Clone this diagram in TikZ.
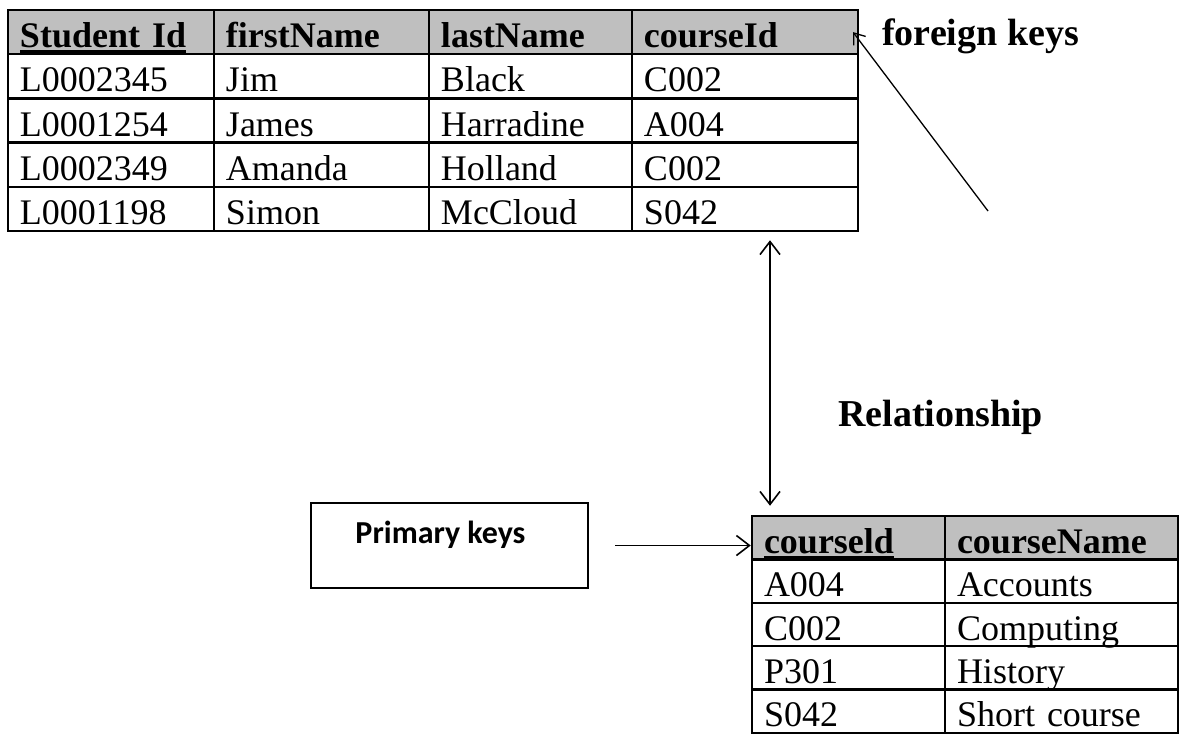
\documentclass[tikz,border=0pt]{standalone}
\usepackage{fontspec}
\setmainfont{Liberation Serif}
\newfontfamily\notefont{Carlito}
\usetikzlibrary{matrix,arrows.meta,positioning}
\newcommand\tablefont{\fontsize{36}{40}\selectfont}
% thick underline for the key column
\newcommand\keyname[1]{\setbox0=\hbox{#1}\rlap{\rule[-6pt]{\wd0}{3.5pt}}\box0}
\tikzset{
  cell/.style={draw, line width=2.5pt, outer sep=0pt, inner xsep=12pt, inner ysep=0.2pt,
    text height=37pt, text depth=6pt, align=left, font=\tablefont},
  head/.style={fill=gray!50, font=\tablefont\bfseries},
  grid/.style={matrix of nodes, anchor=north west, inner sep=0pt, outer sep=0pt,
    column sep=-2.5pt, row sep=-2.5pt, row 1/.style={nodes={head}}},
  link/.style={line width=1.6pt},
  tag/.style={inner sep=0pt, font=\fontsize{38}{44}\selectfont\bfseries}
}

\begin{document}
\begin{tikzpicture}[x=1pt, y=-1pt, >={Straight Barb[length=13pt,width=20pt]}]
  \useasboundingbox (0,0) rectangle (1184,734);
  % student table
  \matrix (stud) [grid, nodes={cell, minimum height=44.2pt},
    column 1/.style={nodes={text width=182pt}},
    column 2/.style={nodes={text width=191pt}},
    column 3/.style={nodes={text width=179pt}},
    column 4/.style={nodes={text width=202pt}}] at (6.75,8.75) {
    \keyname{Student Id} & firstName & lastName  & courseId \\
    L0002345            & Jim       & Black     & C002 \\
    L0001254            & James     & Harradine & A004 \\
    L0002349            & Amanda    & Holland   & C002 \\
    L0001198            & Simon     & McCloud   & S042 \\
  };
  % course table
  \matrix (course) [grid, nodes={cell, minimum height=43.4pt},
    column 1/.style={nodes={text width=169pt}},
    column 2/.style={nodes={text width=209pt}}] at (750.75,514.75) {
    \keyname{courseld} & courseName \\
    A004              & Accounts \\
    C002              & Computing \\
    P301              & History \\
    S042              & Short course \\
  };
  \node[tag, anchor=base west] (fklabel) at (882,45) {foreign keys};
  \node[tag, anchor=base west] (rellabel) at (838,426) {Relationship};
  \node[draw, line width=2pt, anchor=north west, minimum width=277pt, minimum height=85pt,
    inner sep=0pt, text height=40pt, text depth=45pt,
    font=\notefont\fontsize{32}{36}\selectfont\bfseries] (pkbox) at (310,502) {Primary keys\hspace*{18pt}};
  \coordinate (fktail) at (988,211);

  \draw[line width=1.3pt, -{Straight Barb[length=10pt,width=15pt]}] (fktail) -- ([xshift=-5pt]stud-1-4.east);
  \draw[link,<->,shorten <=8pt,shorten >=9pt] ([xshift=19.25pt]course.north west |- stud.south) -- ([xshift=19.25pt]course.north west);
  \draw[link,->,shorten <=26pt] (pkbox.east) -- (pkbox.east -| course.west);
\end{tikzpicture}
\end{document}
